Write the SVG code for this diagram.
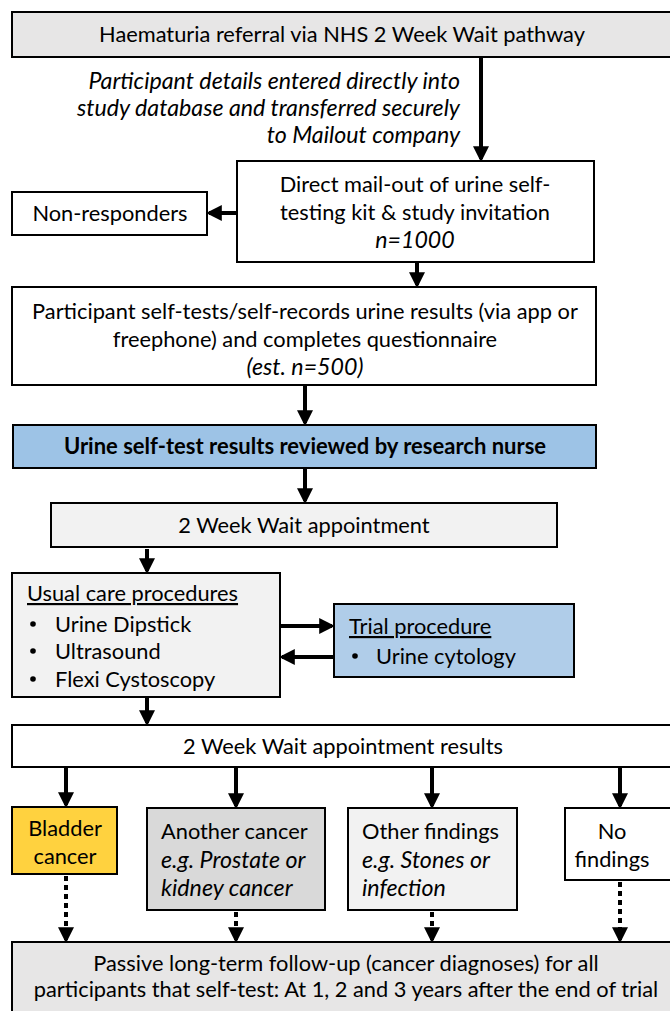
<svg xmlns="http://www.w3.org/2000/svg" width="670" height="1011" viewBox="0 0 670 1011">
<defs>
<marker id="ah" markerWidth="4" markerHeight="4" refX="3.2" refY="2" orient="auto" markerUnits="strokeWidth">
<path d="M0,0 L4,2 L0,4 Z" fill="#000"/>
</marker>
</defs>
<style>
.box{stroke:#000;stroke-width:2}
.t{font-family:Lato,"Open Sans","Liberation Sans",sans-serif;font-size:21.8px;fill:#000}
.c{text-anchor:middle}
.r{text-anchor:end}
.i{font-style:italic;font-size:23.2px}
.b{font-weight:bold;font-size:22px}
.u{text-decoration:underline}
.arr{stroke:#000;stroke-width:4;fill:none;marker-end:url(#ah)}
.dot{stroke:#000;stroke-width:4;fill:none;stroke-dasharray:5 4;marker-end:url(#ah)}
.bul{fill:#000}
</style>
<rect width="670" height="1011" fill="#fff"/>
<g id="connectors">
<line class="arr" x1="481" y1="57" x2="481" y2="159"/>
<line class="arr" x1="237" y1="213" x2="209" y2="213"/>
<line class="arr" x1="417" y1="262" x2="417" y2="285"/>
<line class="arr" x1="305" y1="385" x2="305" y2="423"/>
<line class="arr" x1="305" y1="468" x2="305" y2="501"/>
<line class="arr" x1="147" y1="549" x2="147" y2="571"/>
<line class="arr" x1="280" y1="626" x2="332" y2="626"/>
<line class="arr" x1="334" y1="657" x2="282" y2="657"/>
<line class="arr" x1="147" y1="697" x2="147" y2="723"/>
<line class="arr" x1="66" y1="768" x2="66" y2="805"/>
<line class="arr" x1="236" y1="768" x2="236" y2="806"/>
<line class="arr" x1="432" y1="768" x2="432" y2="806"/>
<line class="arr" x1="620" y1="768" x2="620" y2="806"/>
<line class="dot" x1="66" y1="876" x2="66" y2="940"/>
<line class="dot" x1="236" y1="912" x2="236" y2="940"/>
<line class="dot" x1="432" y1="912" x2="432" y2="940"/>
<line class="dot" x1="620" y1="882" x2="620" y2="940"/>
</g>
<g id="referral">
<rect class="box" x="12" y="12" width="670" height="45" fill="#E7E6E6"/>
<text class="t c" x="342" y="42">Haematuria referral via NHS 2 Week Wait pathway</text>
</g>
<g id="transfer-label">
<text class="t i r" x="460" y="89">Participant details entered directly into</text>
<text class="t i r" x="460" y="116">study database and transferred securely</text>
<text class="t i r" x="460" y="143">to Mailout company</text>
</g>
<g id="mailout">
<rect class="box" x="237" y="161" width="357" height="101" fill="#fff"/>
<text class="t c" x="415" y="192">Direct mail-out of urine self-</text>
<text class="t c" x="415" y="220">testing kit &amp; study invitation</text>
<text class="t c i" x="415" y="248">n=1000</text>
</g>
<g id="non-responders">
<rect class="box" x="12" y="192" width="195" height="43" fill="#fff"/>
<text class="t c" x="110" y="221">Non-responders</text>
</g>
<g id="self-test">
<rect class="box" x="12" y="287" width="584" height="98" fill="#fff"/>
<text class="t c" x="305" y="319">Participant self-tests/self-records urine results (via app or</text>
<text class="t c" x="305" y="347">freephone) and completes questionnaire</text>
<text class="t c i" x="305" y="375">(est. n=500)</text>
</g>
<g id="nurse-review">
<rect class="box" x="13" y="425" width="583" height="43" fill="#9DC3E6"/>
<text class="t c b" x="305" y="454">Urine self-test results reviewed by research nurse</text>
</g>
<g id="appointment">
<rect class="box" x="51" y="503" width="506" height="44" fill="#F2F2F2"/>
<text class="t c" x="304" y="533">2 Week Wait appointment</text>
</g>
<g id="usual-care">
<rect class="box" x="12" y="573" width="268" height="124" fill="#F2F2F2"/>
<text class="t u" x="27" y="601">Usual care procedures</text>
<circle class="bul" cx="33" cy="624" r="2.8"/><text class="t" x="55" y="632">Urine Dipstick</text>
<circle class="bul" cx="33" cy="651" r="2.8"/><text class="t" x="55" y="659">Ultrasound</text>
<circle class="bul" cx="33" cy="679" r="2.8"/><text class="t" x="55" y="687">Flexi Cystoscopy</text>
</g>
<g id="trial-procedure">
<rect class="box" x="334" y="604" width="240" height="73" fill="#B0CDE9"/>
<text class="t u" x="349" y="634">Trial procedure</text>
<circle class="bul" cx="355" cy="656" r="2.8"/><text class="t" x="376" y="664">Urine cytology</text>
</g>
<g id="results">
<rect class="box" x="12" y="725" width="670" height="42" fill="#fff"/>
<text class="t c" x="343" y="754">2 Week Wait appointment results</text>
</g>
<g id="bladder">
<rect class="box" x="12" y="807" width="105" height="67" fill="#FFD23F"/>
<text class="t c" x="65" y="836">Bladder</text>
<text class="t c" x="65" y="864">cancer</text>
</g>
<g id="another-cancer">
<rect class="box" x="147" y="808" width="178" height="102" fill="#D9D9D9"/>
<text class="t" x="161" y="839">Another cancer</text>
<text class="t i" x="161" y="868">e.g. Prostate or</text>
<text class="t i" x="161" y="896">kidney cancer</text>
</g>
<g id="other-findings">
<rect class="box" x="348" y="808" width="169" height="102" fill="#F2F2F2"/>
<text class="t" x="362" y="839">Other findings</text>
<text class="t i" x="362" y="868">e.g. Stones or</text>
<text class="t i" x="362" y="896">infection</text>
</g>
<g id="no-findings">
<rect class="box" x="565" y="808" width="120" height="72" fill="#fff"/>
<text class="t c" x="612" y="839">No</text>
<text class="t c" x="612" y="867">findings</text>
</g>
<g id="follow-up">
<rect class="box" x="12" y="942" width="670" height="80" fill="#E7E6E6"/>
<text class="t c" x="346" y="971">Passive long-term follow-up (cancer diagnoses) for all</text>
<text class="t c" x="346" y="997">participants that self-test: At 1, 2 and 3 years after the end of trial</text>
</g>
</svg>
